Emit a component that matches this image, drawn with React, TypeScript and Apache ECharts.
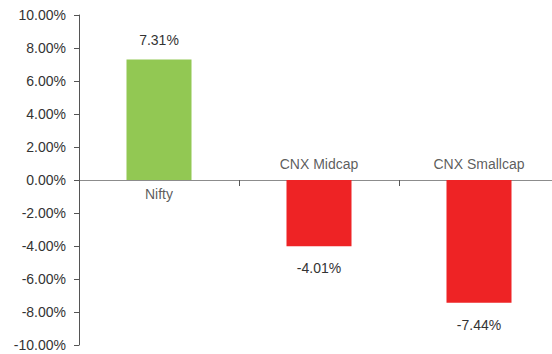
import React, { useEffect, useRef } from "react";
import * as echarts from "echarts";

const categories = ["Nifty", "CNX Midcap", "CNX Smallcap"];
const values = [7.31, -4.01, -7.44];
const barColors = ["#92C853", "#EE2325", "#EE2325"];
const yMin = -10;
const yMax = 10;
const yStep = 2;

const FONT = "Liberation Sans";
const TEXT = "#333333";

export default function App() {
  const ref = useRef<HTMLDivElement>(null);
  useEffect(() => {
    if (!ref.current) return;
    const chart = echarts.init(ref.current, null, { renderer: "svg" });
    chart.setOption({
      animation: false,
      grid: { left: 79, width: 480, top: 15, bottom: 9, containLabel: false, outerBoundsMode: "none" },
      xAxis: {
        type: "category",
        data: categories,
        axisLine: { onZero: true, lineStyle: { color: "#8C8C8C", width: 1 } },
        axisTick: { show: true, length: 6, lineStyle: { color: "#555555" } },
        axisLabel: { show: false },
        splitLine: { show: false },
      },
      yAxis: {
        type: "value",
        min: yMin,
        max: yMax,
        interval: yStep,
        axisLine: { show: true, lineStyle: { color: "#555555", width: 1 } },
        axisTick: { show: true, inside: false, length: 5, lineStyle: { color: "#555555" } },
        splitLine: { show: false },
        axisLabel: {
          margin: 13,
          fontFamily: FONT,
          fontSize: 14,
          color: TEXT,
          formatter: (v: number) => v.toFixed(2) + "%",
        },
      },
      series: [
        {
          type: "bar",
          barWidth: 65,
          data: values.map((v, i) => ({
            value: v,
            itemStyle: { color: barColors[i] },
            label: {
              show: true,
              position: v >= 0 ? "top" : "bottom",
              distance: v >= 0 ? 12 : 15,
              formatter: v.toFixed(2) + "%",
              fontFamily: FONT,
              fontSize: 14,
              color: TEXT,
            },
          })),
        },
        {
          type: "scatter",
          symbolSize: 0,
          silent: true,
          data: categories.map((c, i) => ({
            value: [c, 0],
            label: {
              show: true,
              position: values[i] >= 0 ? "bottom" : "top",
              distance: values[i] >= 0 ? 7 : 9,
              formatter: c,
              fontFamily: FONT,
              fontSize: 14,
              color: TEXT,
            },
          })),
        },
      ],
    });
    return () => chart.dispose();
  }, []);
  return <div ref={ref} style={{ width: 552, height: 354, position: "absolute", left: 0, top: 0 }} />;
}
